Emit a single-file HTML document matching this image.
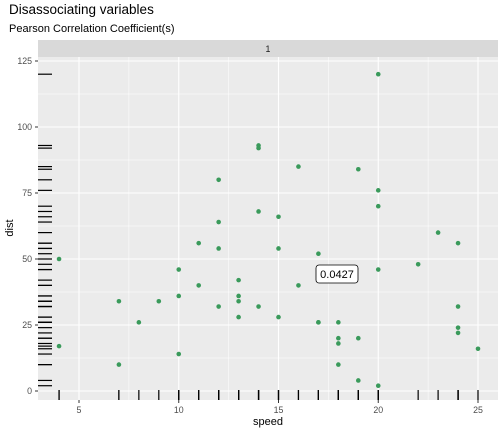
<!DOCTYPE html>
<html><head><meta charset="utf-8"><style>body{margin:0;background:#fff}svg{display:block;font-family:"Liberation Sans",sans-serif}</style></head><body>
<svg id="c" width="504" height="432">
<text x="9" y="14" font-size="13.5" fill="#000">Disassociating variables</text>
<text x="9" y="32" font-size="11" fill="#000">Pearson Correlation Coefficient(s)</text>
<rect x="38" y="40" width="460" height="17" fill="#d9d9d9"/>
<text x="268" y="52" font-size="8.8" fill="#1a1a1a" text-anchor="middle">1</text>
<rect x="38" y="57" width="460" height="343" fill="#ebebeb"/>
<g id="grid"></g><g id="rug"></g><g id="pts"></g><g id="axes"></g>
<rect x="316" y="265" width="42" height="18" rx="3" fill="#fff" stroke="#000" stroke-width="0.8"/>
<text x="337" y="278" font-size="11" text-anchor="middle">0.0427</text>
<text x="268" y="425" font-size="11" text-anchor="middle">speed</text>
<text transform="translate(13,228) rotate(-90)" font-size="11" text-anchor="middle">dist</text>
</svg>
<script>
const speed=[4,4,7,7,8,9,10,10,10,11,11,12,12,12,12,13,13,13,13,14,14,14,14,15,15,15,16,16,17,17,17,18,18,18,18,19,19,19,20,20,20,20,20,22,23,24,24,24,24,25];
const dist=[50,17,34,10,26,34,46,36,14,56,40,80,64,54,32,42,36,34,28,93,92,68,32,66,54,28,85,40,52,26,26,26,20,18,10,84,20,4,120,76,70,46,2,48,60,56,32,24,22,16];
const xTicks=[5,10,15,20,25];
const yTicks=[0,25,50,75,100,125];
const NS="http://www.w3.org/2000/svg";
const X=v=>79+(v-5)*19.95;
const Y=v=>391-v*2.64;
function mk(g,t,a){const e=document.createElementNS(NS,t);for(const k in a)e.setAttribute(k,a[k]);document.getElementById(g).appendChild(e);return e;}
xTicks.forEach((t,i)=>{
 let l=mk('grid','line',{x1:X(t),x2:X(t),y1:57,y2:400,stroke:'#fff','stroke-width':1.1});
 
 
 if(i<xTicks.length-1){let m=mk('grid','line',{x1:X(t+2.5),x2:X(t+2.5),y1:57,y2:400,stroke:'#fff','stroke-width':0.5});
 
 }
 let tk=mk('axes','line',{x1:X(t),x2:X(t),y1:400,y2:403,stroke:'#333'});
 
 
 let tx=mk('axes','text',{x:X(t),y:413,'font-size':8.8,fill:'#4d4d4d','text-anchor':'middle'});tx.textContent=t;
 
 
});
yTicks.forEach((t,i)=>{
 let l=mk('grid','line',{x1:38,x2:498,y1:Y(t),y2:Y(t),stroke:'#fff','stroke-width':1.1});
 
 
 if(i<yTicks.length-1){let m=mk('grid','line',{x1:38,x2:498,y1:Y(t+12.5),y2:Y(t+12.5),stroke:'#fff','stroke-width':0.5});
 
 }
 let tk=mk('axes','line',{x1:35,x2:38,y1:Y(t),y2:Y(t),stroke:'#333'});
 
 
 let tx=mk('axes','text',{x:32,y:Y(t)+3,'font-size':8.8,fill:'#4d4d4d','text-anchor':'end'});tx.textContent=t;
 
 
});
speed.forEach((s,i)=>{
 let r=mk('rug','line',{x1:X(s),x2:X(s),y1:390,y2:400,stroke:'#000','stroke-width':1.2});
 
 
 let q=mk('rug','line',{x1:38,x2:52,y1:Y(dist[i]),y2:Y(dist[i]),stroke:'#000','stroke-width':1.2});
 
 
 let c=mk('pts','circle',{cx:X(s),cy:Y(dist[i]),r:2.3,fill:'#3a9a5b'});
 
 
});
</script>
</body></html>
